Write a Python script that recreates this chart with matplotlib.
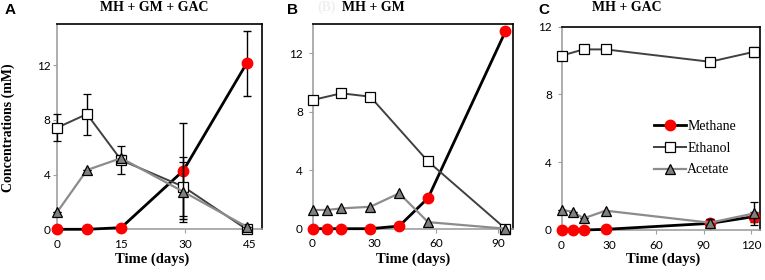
import matplotlib
matplotlib.use("Agg")
import matplotlib.pyplot as plt
from matplotlib.lines import Line2D

# ---------------- data ----------------
# Panel A: MH + GM + GAC
a_days_meth = [0, 7, 15, 29.5, 44.3]
a_meth = [0.0, 0.0, 0.12, 4.28, 12.12]
a_meth_err = [0, 0, 0, 3.5, 2.35]
a_days_eth = [0, 7, 15, 29.5, 44.3]
a_eth = [7.42, 8.42, 5.05, 3.12, 0.0]
a_eth_err = [1.0, 1.5, 1.0, 2.15, 0.0]
a_days_ace = [0, 7, 15, 29.5, 44.3]
a_ace = [1.24, 4.33, 5.2, 2.75, 0.19]
a_ace_err = [0, 0, 0.2, 2.2, 0]

# Panel B: MH + GM
b_days_meth = [0, 7, 14, 28, 42, 56, 93.5]
b_meth = [0.0, 0.0, 0.0, 0.0, 0.18, 2.1, 13.5]
b_days_eth = [0, 14, 28, 56, 93.5]
b_eth = [8.8, 9.26, 9.03, 4.6, 0.0]
b_days_ace = [0, 7, 14, 28, 42, 56, 93.5]
b_ace = [1.28, 1.28, 1.39, 1.5, 2.42, 0.45, 0.0]

# Panel C: MH + GAC
c_days_meth = [0, 7, 14, 28, 94, 122]
c_meth = [0.0, 0.0, 0.0, 0.04, 0.39, 0.79]
c_meth_err = [0, 0, 0, 0, 0.2, 0.3]
c_days_eth = [0, 14, 28, 94, 122]
c_eth = [10.29, 10.66, 10.66, 9.93, 10.52]
c_eth_err = [0, 0, 0, 0, 0.3]
c_days_ace = [0, 7, 14, 28, 94, 122]
c_ace = [1.18, 1.08, 0.69, 1.14, 0.43, 0.98]
c_ace_err = [0, 0, 0, 0, 0.2, 0.7]

series_names = ["Methane", "Ethanol", "Acetate"]
titles = ["MH + GM + GAC", "MH + GM", "MH + GAC"]
letters = ["A", "B", "C"]
xticks = [[0, 15, 30, 45], [0, 30, 60, 90], [0, 30, 60, 90, 120]]
yticks = [[0, 4, 8, 12], [0, 4, 8, 12], [0, 4, 8, 12]]
xlims = [(0, 47.9), (0, 97), (0, 125.7)]
ylims = [(0, 15), (0, 14), (0, 12)]

W, H = 765, 280
fig = plt.figure(figsize=(W / 100, H / 100), dpi=100)

def px_axes(l, r, t, b):
    return fig.add_axes([l / W, 1 - b / H, (r - l) / W, (b - t) / H])

axes = [px_axes(57, 262, 24, 229.3),
        px_axes(312.5, 512.7, 24, 228.7),
        px_axes(561.5, 760, 26.7, 230)]

serif = "Liberation Serif"
tickfont = "Lato"

meth_style = dict(color="black", lw=2.0, marker="o", ms=7.5, mfc="#ff0000",
                  mec="#ff0000", zorder=3)
eth_style = dict(color="#404040", lw=1.4, marker="s", ms=7.2, mfc="white",
                 mec="black", mew=0.9, zorder=4)
ace_style = dict(color="#8c8c8c", lw=1.6, marker="^", ms=6.8, mfc="#808080",
                 mec="black", mew=0.9, zorder=5)
styles = [meth_style, eth_style, ace_style]
err_kw = dict(ecolor="black", elinewidth=1.0, capsize=3, capthick=1.0)

def draw(ax, data):
    for (x, y, e), st, name in zip(data, styles, series_names):
        ax.errorbar(x, y, yerr=e, label=name, **st, **err_kw)

draw(axes[0], [(a_days_meth, a_meth, a_meth_err),
               (a_days_eth, a_eth, a_eth_err),
               (a_days_ace, a_ace, a_ace_err)])
draw(axes[1], [(b_days_meth, b_meth, None),
               (b_days_eth, b_eth, None),
               (b_days_ace, b_ace, None)])
draw(axes[2], [(c_days_meth, c_meth, c_meth_err),
               (c_days_eth, c_eth, c_eth_err),
               (c_days_ace, c_ace, c_ace_err)])

for i, ax in enumerate(axes):
    ax.set_xlim(*xlims[i])
    ax.set_ylim(*ylims[i])
    ax.set_xticks(xticks[i])
    ax.set_yticks(yticks[i])
    for s in ["top", "right"]:
        ax.spines[s].set_color("black")
        ax.spines[s].set_linewidth(1.2)
    for s in ["left", "bottom"]:
        ax.spines[s].set_color("#a0a0a0")
        ax.spines[s].set_linewidth(1.2)
    ax.tick_params(axis="both", direction="out", length=3, color="#a0a0a0",
                   labelsize=8.5)
    ax.tick_params(axis="x", pad=4)
    ax.tick_params(axis="y", pad=4 if i else 1.5)
    for lab in ax.get_xticklabels() + ax.get_yticklabels():
        lab.set_fontfamily(tickfont)
    for line in ax.lines:
        line.set_clip_on(False)
    for coll in ax.collections:
        coll.set_clip_on(False)

# legend in panel C (plain line handles, no error bars)
handles = [Line2D([], [], **{k: v for k, v in st.items() if k != "zorder"})
           for st in styles]
leg = axes[2].legend(handles, series_names, loc="upper left",
                     bbox_to_anchor=(0.465, 0.54),
                     frameon=False, borderpad=0, borderaxespad=0,
                     handlelength=2.3, handletextpad=0.1, labelspacing=0.62,
                     prop=dict(family=serif, size=10))

# titles
title_x = [154, 373, 627]
for tx, t in zip(title_x, titles):
    fig.text(tx / W, 1 - 7.5 / H, t, ha="center", va="center",
             fontfamily=serif, fontweight="bold", fontsize=10)
fig.text(327 / W, 1 - 7.5 / H, "(B)", ha="center", va="center",
         fontfamily=serif, fontweight="bold", fontsize=10, color="#efefef")

letter_x = [10, 292.5, 544]
for lx, l in zip(letter_x, letters):
    fig.text(lx / W, 1 - 10 / H, l, ha="center", va="center",
             fontfamily="Liberation Sans", fontweight="bold", fontsize=11)

xlabel_x = [152.5, 413, 663]
for xx in xlabel_x:
    fig.text(xx / W, 1 - 259 / H, "Time (days)", ha="center", va="center",
             fontfamily=serif, fontweight="bold", fontsize=10.5)

fig.text(8.5 / W, 1 - 128 / H, "Concentrations (mM)", ha="center",
         va="center", rotation=90, fontfamily=serif, fontweight="bold",
         fontsize=10)

fig.savefig("out.png", dpi=100)
